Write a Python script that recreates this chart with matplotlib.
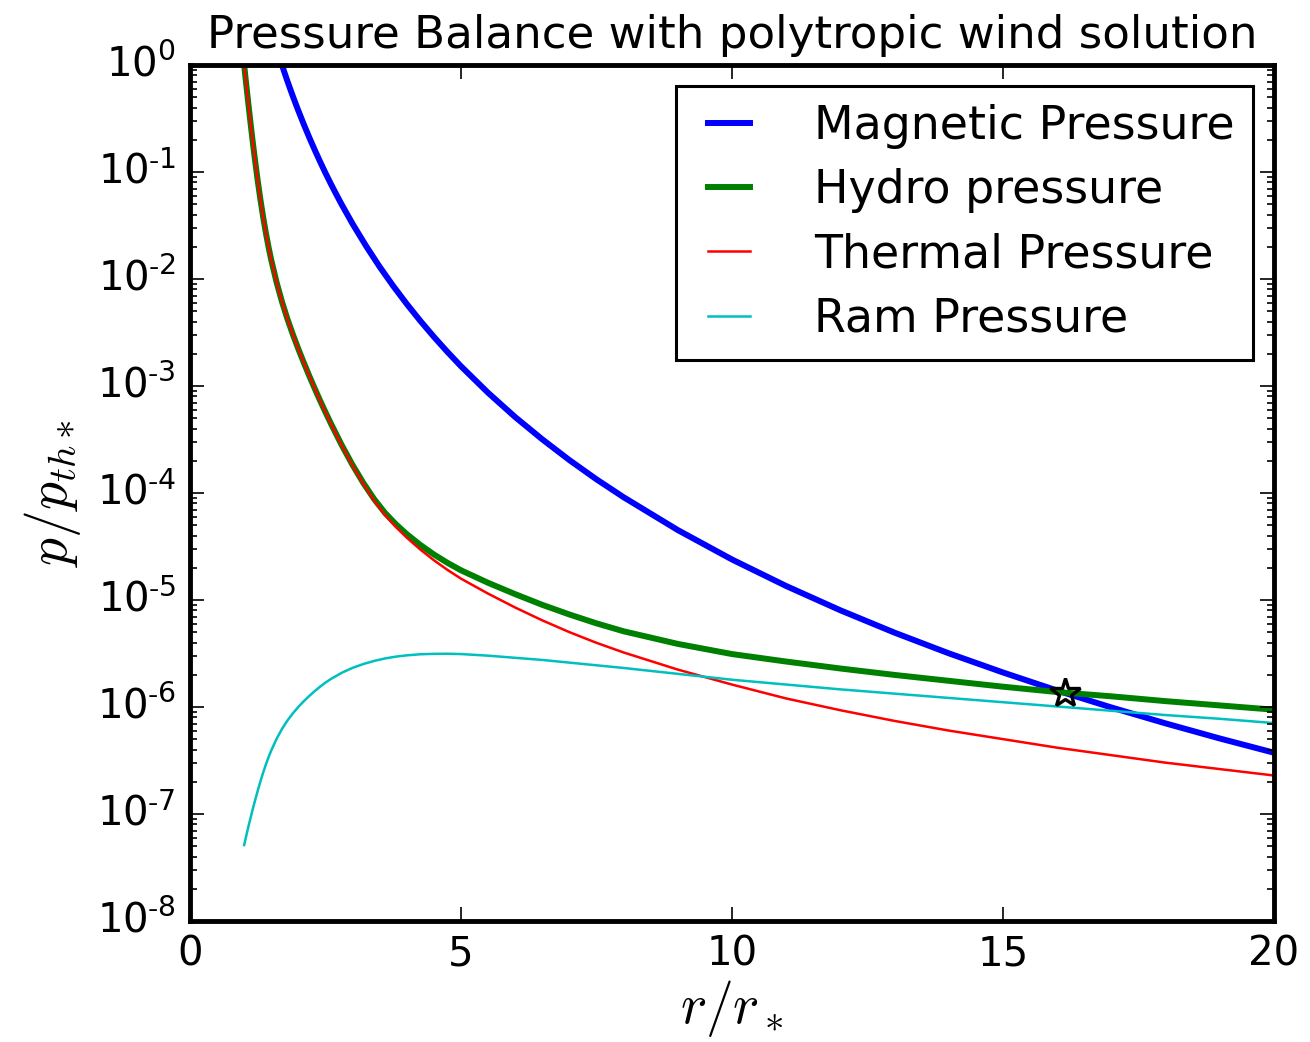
import numpy as np
import matplotlib
matplotlib.use("Agg")
import matplotlib.pyplot as plt
from matplotlib.ticker import FuncFormatter

plt.style.use("classic")
plt.rcParams["mathtext.fontset"] = "cm"

# radius in units of the stellar radius
r = np.array([1.0, 1.025, 1.05, 1.075, 1.1, 1.125, 1.15, 1.175, 1.2, 1.25, 1.3, 1.35,
              1.4, 1.45, 1.5, 1.6, 1.7, 1.8, 1.9, 2.0, 2.1, 2.2, 2.3, 2.4, 2.5, 2.6,
              2.8, 3.0, 3.2, 3.4, 3.6, 3.8, 4.0, 4.25, 4.5, 4.75, 5.0, 5.5, 6.0, 6.5,
              7.0, 7.5, 8.0, 9.0, 10.0, 11.0, 12.0, 13.0, 14.0, 15.0, 16.0, 17.0,
              18.0, 19.0, 20.0])

# log10 of the pressures, normalised to the thermal pressure at the surface
log_p_thermal = np.array([0.0, -0.119, -0.235, -0.350, -0.463, -0.574, -0.682, -0.786,
                          -0.887, -1.080, -1.257, -1.420, -1.567, -1.701, -1.822,
                          -2.034, -2.216, -2.376, -2.520, -2.654, -2.781, -2.904,
                          -3.022, -3.136, -3.246, -3.353, -3.556, -3.744, -3.916,
                          -4.072, -4.206, -4.318, -4.417, -4.528, -4.628, -4.718,
                          -4.800, -4.940, -5.070, -5.190, -5.300, -5.400, -5.490,
                          -5.650, -5.790, -5.920, -6.030, -6.130, -6.220, -6.300,
                          -6.380, -6.450, -6.520, -6.580, -6.640])
log_p_ram = np.array([-7.290, -7.234, -7.179, -7.125, -7.073, -7.022, -6.972, -6.923,
                      -6.876, -6.783, -6.696, -6.614, -6.538, -6.469, -6.406, -6.296,
                      -6.203, -6.125, -6.058, -5.999, -5.946, -5.897, -5.852, -5.810,
                      -5.772, -5.738, -5.680, -5.634, -5.598, -5.569, -5.546, -5.529,
                      -5.517, -5.507, -5.503, -5.502, -5.505, -5.520, -5.540, -5.560,
                      -5.585, -5.610, -5.635, -5.690, -5.745, -5.790, -5.835, -5.875,
                      -5.915, -5.955, -5.995, -6.035, -6.075, -6.110, -6.150])
log_p_hydro = np.array([0.0, -0.119, -0.235, -0.350, -0.463, -0.574, -0.682, -0.786,
                        -0.887, -1.080, -1.257, -1.420, -1.567, -1.701, -1.822,
                        -2.034, -2.216, -2.376, -2.520, -2.654, -2.781, -2.904,
                        -3.021, -3.135, -3.244, -3.350, -3.552, -3.738, -3.907,
                        -4.058, -4.187, -4.292, -4.384, -4.485, -4.574, -4.652,
                        -4.722, -4.839, -4.945, -5.045, -5.135, -5.218, -5.292,
                        -5.410, -5.505, -5.575, -5.640, -5.700, -5.755, -5.810,
                        -5.860, -5.900, -5.945, -5.985, -6.025])

r_mag = np.array([1.6, 1.65, 1.7, 1.75, 1.8, 1.85, 1.9, 1.95, 2.0, 2.1, 2.2, 2.3, 2.4,
                  2.5, 2.6, 2.7, 2.8, 3.0, 3.25, 3.5, 3.75, 4.0, 4.25, 4.5, 4.75, 5.0,
                  5.5, 6.0, 6.5, 7.0, 7.5, 8.0, 9.0, 10.0, 11.0, 12.0, 13.0, 14.0,
                  15.0, 16.0, 17.0, 18.0, 19.0, 20.0])
log_p_mag = np.array([0.154, 0.074, -0.003, -0.079, -0.153, -0.224, -0.294, -0.361,
                      -0.427, -0.554, -0.675, -0.791, -0.902, -1.009, -1.111, -1.209,
                      -1.304, -1.484, -1.692, -1.886, -2.065, -2.233, -2.391, -2.540,
                      -2.681, -2.815, -3.063, -3.290, -3.498, -3.692, -3.872, -4.039,
                      -4.346, -4.621, -4.869, -5.096, -5.305, -5.498, -5.677, -5.846,
                      -6.004, -6.153, -6.294, -6.427])

# where magnetic and hydro pressure balance
r_eq = 16.15
p_eq = 1.35e-6


def decade_label(val, pos):
    n = int(round(np.log10(val)))
    if n < 0:
        return r"$\mathdefault{10^{\text{-}%d}}$" % (-n)
    return r"$\mathdefault{10^{%d}}$" % n


fig = plt.figure(figsize=(13.1, 10.42), dpi=100)
ax = fig.add_axes([0.145, 0.1161, 0.8275, 0.8215])

ax.semilogy(r_mag, 10**log_p_mag, "b", lw=4.3, label="Magnetic Pressure")
ax.semilogy(r, 10**log_p_hydro, "g", lw=4.3, label="Hydro pressure")
ax.semilogy(r, 10**log_p_thermal, "r", lw=1.8, label="Thermal Pressure")
ax.semilogy(r, 10**log_p_ram, "c", lw=1.8, label="Ram Pressure")
ax.plot([r_eq], [p_eq], "*", ms=22, mfc="none", mec="k", mew=2.4)

ax.set_xlim(0, 20)
ax.set_ylim(1e-8, 1e0)
ax.set_xticks([0, 5, 10, 15, 20])
ax.yaxis.set_major_formatter(FuncFormatter(decade_label))

for sp in ax.spines.values():
    sp.set_linewidth(3.5)
ax.tick_params(which="major", length=10, width=1.2, labelsize=29, pad=10)
ax.tick_params(which="minor", length=5, width=1.2)

ax.set_xlabel(r"$r/r_*$", fontsize=40, labelpad=2)
ax.set_ylabel(r"$p/p_{th*}$", fontsize=40, labelpad=10)
ax.set_title("Pressure Balance with polytropic wind solution", fontsize=32.5, y=1.012)

leg = ax.legend(loc="upper right", fontsize=33, handlelength=1.53, handletextpad=1.1,
                labelspacing=0.42, borderaxespad=0.45, fancybox=False)
leg.get_frame().set_linewidth(2.2)

fig.savefig("out.png", dpi=100)
